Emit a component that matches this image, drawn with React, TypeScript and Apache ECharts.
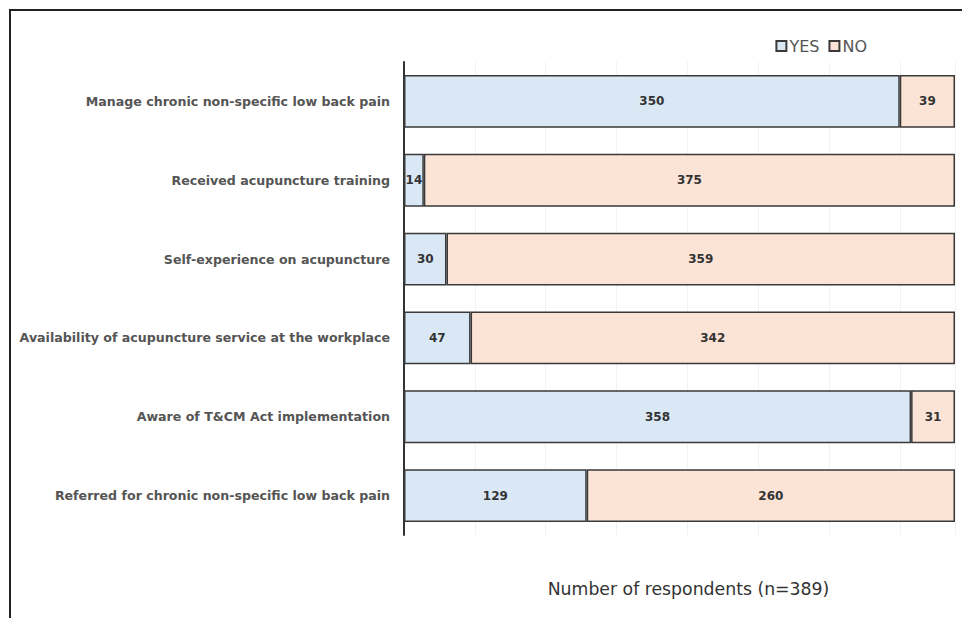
import React, { useEffect, useRef } from "react";
import * as echarts from "echarts";

const categories = [
  "Manage chronic non-specific low back pain",
  "Received acupuncture training",
  "Self-experience on acupuncture",
  "Availability of acupuncture service at the workplace",
  "Aware of T&CM Act implementation",
  "Referred for chronic non-specific low back pain",
];
const yesValues = [350, 14, 30, 47, 358, 129];
const noValues = [39, 375, 359, 342, 31, 260];
const axisTitle = "Number of respondents (n=389)";

const FONT = "DejaVu Sans, Liberation Sans, Arial, sans-serif";

export default function App() {
  const ref = useRef<HTMLDivElement>(null);
  useEffect(() => {
    if (!ref.current) return;
    const chart = echarts.init(ref.current, undefined, { renderer: "svg" });
    const labelStyle = {
      show: true,
      position: "inside" as const,
      color: "#333",
      fontWeight: "bold" as const,
      fontSize: 12,
      fontFamily: FONT,
    };
    chart.setOption({
      animation: false,
      backgroundColor: "transparent",
      legend: {
        top: 33,
        right: 90,
        itemWidth: 10,
        itemHeight: 10,
        itemGap: 9,
        icon: "rect",
        textStyle: { color: "#555", fontSize: 16, fontFamily: FONT, padding: [0, 0, 0, -2] },
        data: ["YES", "NO"],
      },
      grid: { left: 404, right: 7, top: 62, bottom: 83, containLabel: false },
      xAxis: {
        type: "value",
        min: 0,
        max: 389,
        interval: 50,
        axisLine: { show: false },
        axisTick: { show: false },
        axisLabel: { show: false },
        splitLine: { show: true, lineStyle: { color: "#f2f2f2", width: 1 } },
        name: axisTitle,
        nameLocation: "middle",
        nameGap: 45,
        nameTextStyle: { color: "#333", fontSize: 17.3, fontFamily: FONT, padding: [0, 0, 0, 18] },
      },
      yAxis: {
        type: "category",
        data: categories,
        inverse: true,
        axisLine: { show: true, lineStyle: { color: "#333", width: 2 } },
        axisTick: { show: false },
        axisLabel: {
          color: "#555",
          fontWeight: "bold",
          fontSize: 12.6,
          margin: 14,
          fontFamily: FONT,
        },
      },
      series: [
        {
          name: "YES",
          type: "bar",
          stack: "total",
          data: yesValues,
          barWidth: "67%",
          itemStyle: { color: "#dae8f5", borderColor: "#3a3a3a", borderWidth: 1.5 },
          label: labelStyle,
        },
        {
          name: "NO",
          type: "bar",
          stack: "total",
          data: noValues,
          barWidth: "67%",
          itemStyle: { color: "#fbe3d6", borderColor: "#3a3a3a", borderWidth: 1.5 },
          label: labelStyle,
        },
      ],
    });
    return () => chart.dispose();
  }, []);
  return (
    <div
      style={{
        position: "fixed",
        left: 0,
        top: 0,
        width: 962,
        height: 618,
        background: "#fff",
      }}
    >
      <div
        style={{
          position: "absolute",
          left: 9,
          top: 9,
          right: 0,
          bottom: 0,
          borderTop: "2px solid #222",
          borderLeft: "2px solid #222",
        }}
      />
      <div ref={ref} style={{ position: "absolute", left: 0, top: 0, width: 962, height: 618 }} />
    </div>
  );
}
